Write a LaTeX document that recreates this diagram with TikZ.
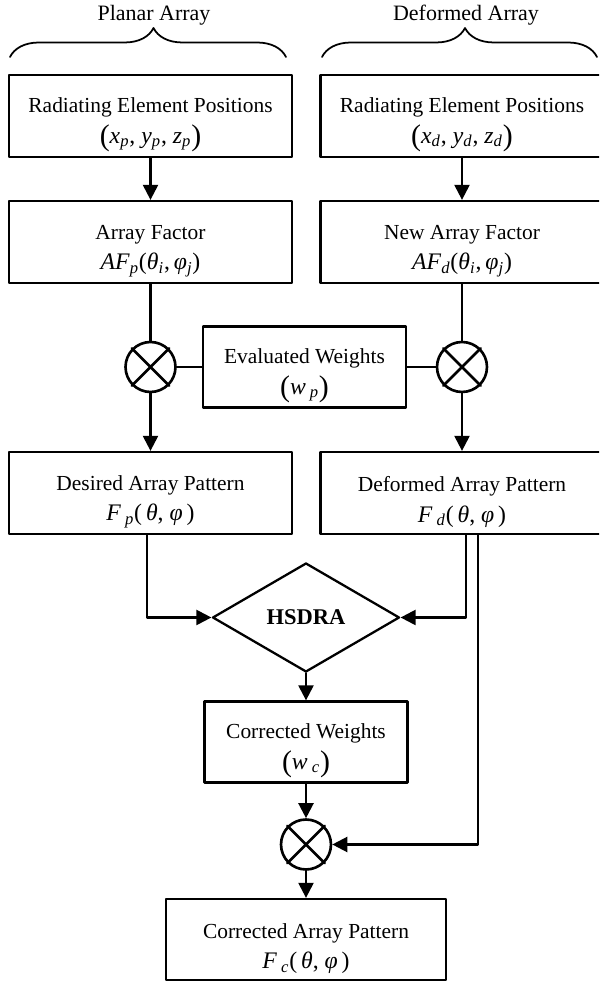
\documentclass[tikz,border=0pt]{standalone}
\usepackage{fontspec}
\setmainfont{Liberation Serif}
\usepackage{tikz}
\usetikzlibrary{arrows.meta}
\usetikzlibrary{shapes.geometric}
\usetikzlibrary{decorations.pathreplacing}

\newcommand{\idx}[1]{\textsubscript{\textit{#1}}}
\newcommand{\eqn}[1]{{\fontsize{13.5}{16}\selectfont #1}}
\newcommand{\bigpar}[1]{\raisebox{-1.5pt}{\fontsize{17}{17}\selectfont(}#1\raisebox{-1.5pt}{\fontsize{17}{17}\selectfont)}}
\newcommand{\topgap}{\rule{0pt}{18.6pt}}

\begin{document}
\begin{tikzpicture}[line cap=round,line join=round,x=0.02cm,y=0.02cm,line width=1.3pt,
  >={Triangle[length=0.3cm,width=0.3cm]},
  block/.style={draw,minimum width=5.66cm,minimum height=1.64cm,inner sep=0pt,align=center,
    font=\fontsize{12.2}{17.4}\selectfont},
  small block/.style={block,minimum width=4.06cm,minimum height=1.62cm},
  mult/.style={circle,draw,line width=1.5pt,minimum size=1cm,inner sep=0pt},
  decide/.style={diamond,draw,minimum width=3.74cm,minimum height=2.18cm,inner sep=0pt,aspect=1.72,
    font=\fontsize{12.8}{15}\selectfont\bfseries},
  title/.style={anchor=base,font=\fontsize{12.5}{15}\selectfont}]
\useasboundingbox (0,0) rectangle (599,984);
\clip(0,0) rectangle (599,984);
% headings
\node[title] (ttlP) at (154,963) {Planar Array};
\node[title] (ttlD) at (466,963) {Deformed Array};
\draw [line width=1pt,decorate,decoration={brace,amplitude=0.58cm,aspect=0.52}] (10,927) -- (286,927);
\draw [line width=1pt,decorate,decoration={brace,amplitude=0.58cm,aspect=0.52}] (322,927) -- (597,927);
% blocks
\node[block] (relP) at (150.5,868) {\topgap Radiating Element Positions\\ \eqn{\bigpar{\textit{x}\idx{p}, \textit{y}\idx{p}, \textit{z}\idx{p}}}};
\node[block] (relD) at (462,868) {\topgap Radiating Element Positions\\ \eqn{\bigpar{\textit{x}\idx{d}, \textit{y}\idx{d}, \textit{z}\idx{d}}}};
\node[block] (afP) at (150.5,742) {\topgap Array Factor\\ \eqn{\textit{AF}\idx{p}(\textit{θ}\idx{i},\,\textit{φ}\idx{j})}};
\node[block] (afD) at (462,742) {\topgap New Array Factor\\ \eqn{\textit{AF}\idx{d}(\textit{θ}\idx{i},\,\textit{φ}\idx{j})}};
\node[mult] (mulP) at (150.5,617) {};
\node[mult] (mulD) at (462,617) {};
\node[small block] (evw) at (304.5,617) {\topgap Evaluated Weights\\ \eqn{\bigpar{\textit{w}\,\idx{p}}}};
\node[block] (desP) at (150.5,491) {\topgap Desired Array Pattern\\ \eqn{\textit{F}\,\idx{p}(\,\textit{θ}, \textit{φ}\,)}};
\node[block] (defD) at (462,491) {\topgap Deformed Array Pattern\\ \eqn{\textit{F}\,\idx{d}(\,\textit{θ}, \textit{φ}\,)}};
\node[decide] (hsdra) at (306,366.5) {HSDRA};
\node[small block] (corw) at (306,242) {\topgap Corrected Weights\\ \eqn{\bigpar{\textit{w}\,\idx{c}}}};
\node[mult] (mulC) at (306,139.5) {};
\node[block,minimum width=5.6cm,minimum height=1.62cm] (corp) at (306,44.5) {\topgap Corrected Array Pattern\\ \eqn{\textit{F}\,\idx{c}(\,\textit{θ}, \textit{φ}\,)}};
% crosses in the multipliers
\draw [line width=1.5pt] (mulP.north west) -- (mulP.south east) (mulP.north east) -- (mulP.south west);
\draw [line width=1.5pt] (mulD.north west) -- (mulD.south east) (mulD.north east) -- (mulD.south west);
\draw [line width=1.5pt] (mulC.north west) -- (mulC.south east) (mulC.north east) -- (mulC.south west);
% connectors
\draw [->] (relP) -- (afP);
\draw [->] (relD) -- (afD);
\draw (afP) -- (mulP);
\draw (afD) -- (mulD);
\draw (mulP) -- (evw);
\draw (evw) -- (mulD);
\draw [->] (mulP) -- (desP);
\draw [->] (mulD) -- (defD);
\draw [->] ([xshift=-0.07cm]desP.south) |- (hsdra.west);
\draw [->] ([xshift=0.08cm]defD.south) |- (hsdra.east);
\draw [->] ([xshift=0.32cm]defD.south) |- (mulC.east);
\draw [->] (hsdra) -- (corw);
\draw [->] (corw) -- (mulC);
\draw [->] (mulC) -- (corp);
\end{tikzpicture}
\end{document}
